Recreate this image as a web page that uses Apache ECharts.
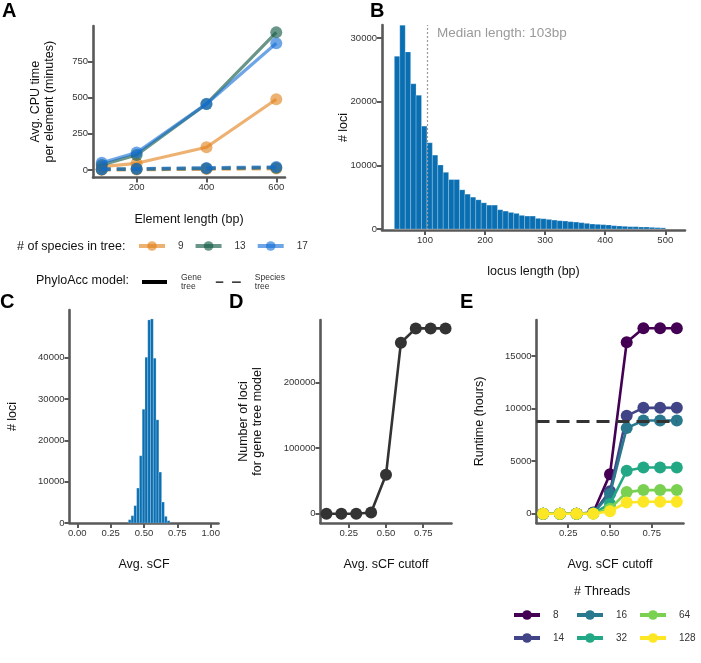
<!DOCTYPE html>
<html>
<head>
<meta charset="utf-8">
<script src="https://cdn.jsdelivr.net/npm/echarts@6/dist/echarts.min.js"></script>
<style>
  html, body { margin: 0; padding: 0; background: #fff; }
  #main { width: 701px; height: 663px; }
</style>
</head>
<body>
<div id="main"></div>
<script>
// ---- A: CPU time per element ----
var elemLength = [100, 200, 400, 600];
var speciesNames = ['9', '13', '17'];
var geneTreeTime = [
  [23, 46, 157, 488],
  [35, 104, 456, 950],
  [50, 120, 456, 875]
];
var speciesTreeTime = [
  [2, 3, 6, 10],
  [4, 6, 11, 16],
  [5, 8, 14, 20]
];
var modelNames = ['Gene tree', 'Species tree'];

// ---- B: locus length histogram ----
var locusBinStart = 49;
var locusBinWidth = 9.03;
var locusCounts = [27100, 32000, 27800, 22800, 21000, 16150, 13540, 11600, 10050, 8900,
  7760, 7760, 6150, 5470, 5000, 4580, 4110, 3750, 3750, 3020,
  2810, 2600, 2450, 2140, 2030, 2030, 1670, 1610, 1510, 1400,
  1300, 1250, 1150, 1090, 990, 885, 780, 730, 680, 625,
  520, 470, 420, 365, 365, 310, 310, 260, 210, 180];
var medianLength = 103;

// ---- C: sCF histogram ----
var scfBinStart = 0.3825;
var scfBinWidth = 0.0208;
var scfCounts = [800, 1770, 4200, 8450, 16260, 27500, 40080, 49100, 49340, 39840, 24950, 12310, 5070, 1610, 560];

// ---- D: loci for gene tree model ----
var cutoffs = [0.1, 0.2, 0.3, 0.4, 0.5, 0.6, 0.7, 0.8, 0.9];
var geneTreeLoci = [0, 0, 0, 2000, 59300, 260300, 282200, 282200, 282200];

// ---- E: runtime by threads ----
var threadNames = ['8', '14', '16', '32', '64', '128'];
var runtimeHours = [
  [0, 0, 0, 120, 3770, 16320, 17650, 17650, 17650],
  [0, 0, 0, 70, 2150, 9320, 10080, 10080, 10080],
  [0, 0, 0, 60, 1890, 8150, 8870, 8870, 8870],
  [0, 0, 0, 30, 940, 4090, 4400, 4400, 4400],
  [0, 0, 0, 15, 480, 2060, 2250, 2250, 2250],
  [0, 0, 0, 8, 240, 1070, 1140, 1140, 1140]
];
var yearHours = 8760;

var speciesColors = ['rgba(225,125,20,0.6)', 'rgba(20,90,70,0.64)', 'rgba(20,110,215,0.62)'];
var threadColors = ['#440154', '#414487', '#2A788E', '#22A884', '#7AD151', '#FDE725'];
var barBlue = '#0a6fb2';
var axisGrey = '#595959';
var font = 'Liberation Sans, Arial, sans-serif';

var chart = echarts.init(document.getElementById('main'));

function plain(v) { return String(v); }
function two(v) { return v.toFixed(2); }

function makeAxis(grid, min, max, ticks, fmt, name, gap, isY) {
  return {
    type: 'value', gridIndex: grid, min: min, max: max,
    name: name, nameLocation: 'middle', nameGap: gap,
    nameRotate: isY ? 90 : 0,
    nameMoveOverlap: false,
    nameTextStyle: { fontFamily: font, fontSize: 12.5, color: '#111', lineHeight: 14 },
    splitLine: { show: false },
    axisLine: { show: true, onZero: false, lineStyle: { color: axisGrey, width: 2.6 } },
    axisTick: { show: true, length: 5, customValues: ticks, lineStyle: { color: axisGrey, width: 2 } },
    axisLabel: { customValues: ticks, formatter: fmt, fontFamily: font, fontSize: 9.5, color: '#333', margin: 5 }
  };
}

function histItem(params, api) {
  var p0 = api.coord([api.value(0), api.value(2)]);
  var p1 = api.coord([api.value(1), 0]);
  return {
    type: 'rect',
    shape: { x: p0[0], y: p0[1], width: p1[0] - p0[0], height: p1[1] - p0[1] },
    style: { fill: barBlue, stroke: 'rgba(255,255,255,0.35)', lineWidth: 0.6 }
  };
}

var locusBins = locusCounts.map(function (c, i) {
  return [locusBinStart + i * locusBinWidth, locusBinStart + (i + 1) * locusBinWidth, c];
});
var scfBins = scfCounts.map(function (c, i) {
  return [scfBinStart + i * scfBinWidth, scfBinStart + (i + 1) * scfBinWidth, c];
});

var series = [];

// A: gene tree (solid) then species tree (dashed)
speciesNames.forEach(function (n, i) {
  series.push({
    type: 'line', name: n, xAxisIndex: 0, yAxisIndex: 0,
    data: elemLength.map(function (x, j) { return [x, geneTreeTime[i][j]]; }),
    symbol: 'circle', symbolSize: 12,
    lineStyle: { color: speciesColors[i], width: 3.2 },
    itemStyle: { color: speciesColors[i] },
    z: 2 + i
  });
});
speciesNames.forEach(function (n, i) {
  series.push({
    type: 'line', name: n, xAxisIndex: 0, yAxisIndex: 0,
    data: elemLength.map(function (x, j) { return [x, speciesTreeTime[i][j]]; }),
    symbol: 'circle', symbolSize: 12,
    lineStyle: { color: speciesColors[i], width: 3.6, type: [9, 6] },
    itemStyle: { color: speciesColors[i] },
    z: 5 + i
  });
});
modelNames.forEach(function (n, i) {
  series.push({
    type: 'line', name: n, xAxisIndex: 0, yAxisIndex: 0, data: [],
    symbol: 'none',
    lineStyle: { color: '#000', width: 3.5, type: i ? [6, 7] : 'solid' },
    itemStyle: { color: '#000' }
  });
});

// B
series.push({
  type: 'custom', xAxisIndex: 1, yAxisIndex: 1, renderItem: histItem,
  encode: { x: [0, 1], y: 2 }, data: locusBins, silent: true
});
series.push({
  type: 'line', xAxisIndex: 1, yAxisIndex: 1, data: [], silent: true, z: 5,
  markLine: {
    silent: true, symbol: 'none', label: { show: false },
    lineStyle: { color: '#9a9a9a', type: [2, 2], width: 1.2 },
    data: [{ xAxis: medianLength }]
  }
});

// C
series.push({
  type: 'custom', xAxisIndex: 2, yAxisIndex: 2, renderItem: histItem,
  encode: { x: [0, 1], y: 2 }, data: scfBins, silent: true
});

// D
series.push({
  type: 'line', xAxisIndex: 3, yAxisIndex: 3,
  data: cutoffs.map(function (x, j) { return [x, geneTreeLoci[j]]; }),
  symbol: 'circle', symbolSize: 12,
  lineStyle: { color: '#333', width: 2.6 }, itemStyle: { color: '#333' }
});

// E
series.push({
  type: 'line', xAxisIndex: 4, yAxisIndex: 4, data: [], silent: true, z: 1,
  markLine: {
    silent: true, symbol: 'none', label: { show: false },
    lineStyle: { color: '#333', type: [13, 7], width: 3 },
    data: [[{ coord: [0.06, yearHours] }, { coord: [cutoffs[cutoffs.length - 1], yearHours] }]]
  }
});
threadNames.forEach(function (n, i) {
  series.push({
    type: 'line', name: n, xAxisIndex: 4, yAxisIndex: 4,
    data: cutoffs.map(function (x, j) { return [x, runtimeHours[i][j]]; }),
    symbol: 'circle', symbolSize: 12,
    lineStyle: { color: threadColors[i], width: 2.6 },
    itemStyle: { color: threadColors[i] },
    z: 2 + i
  });
});

function letter(t, x, y) {
  return { text: t, left: x, top: y, padding: 0,
    textStyle: { fontFamily: font, fontSize: 20, fontWeight: 'bold', color: '#000' } };
}
function note(t, x, y, size, color) {
  return { text: t, left: x, top: y, padding: 0,
    textStyle: { fontFamily: font, fontSize: size, fontWeight: 'normal', color: color } };
}
function threadLegend(names, x) {
  return {
    data: names, left: x, top: 610, orient: 'vertical', selectedMode: false,
    itemWidth: 26, itemHeight: 12, itemGap: 13, padding: 0,
    lineStyle: { width: 4 },
    textStyle: { fontFamily: font, fontSize: 10, color: '#333', padding: [0, 0, 0, 8] }
  };
}

var option = {
  backgroundColor: '#fff',
  animation: false,
  title: [
    letter('A', 2, 1), letter('B', 370, 1), letter('C', 0, 292), letter('D', 229, 292), letter('E', 460, 292),
    note('Median length: 103bp', 437, 26, 13.5, '#9a9a9a'),
    note('# of species in tree:', 17, 240, 12.5, '#111'),
    note('PhyloAcc model:', 36, 274, 12.5, '#111'),
    note('# Threads', 574, 585, 12.5, '#111')
  ],
  legend: [
    {
      data: speciesNames, left: 137, top: 241, selectedMode: false,
      itemWidth: 26, itemHeight: 12, itemGap: 10, padding: 0,
      lineStyle: { width: 4 },
      textStyle: { fontFamily: font, fontSize: 10, color: '#333', padding: [0, 0, 0, 8] }
    },
    {
      data: [
        { name: modelNames[0], icon: 'rect' },
        { name: modelNames[1], icon: 'path://M0,0H6V1H0Z M13,0H20V1H13Z' }
      ],
      left: 142, top: 273, selectedMode: false,
      itemWidth: 25, itemHeight: 4, itemGap: 14, padding: 0,
      formatter: function (n) { return n.replace(' ', '\n'); },
      textStyle: { fontFamily: font, fontSize: 8.5, lineHeight: 9, color: '#333', padding: [0, 0, 0, 9] }
    },
    threadLegend(['8', '14'], 512),
    threadLegend(['16', '32'], 575),
    threadLegend(['64', '128'], 638)
  ],
  grid: [
    { left: 93, top: 26, width: 192, height: 151.5 },
    { left: 382, top: 25, width: 303, height: 205 },
    { left: 69.5, top: 310, width: 149, height: 213 },
    { left: 320.5, top: 320, width: 131, height: 203 },
    { left: 536.5, top: 320, width: 147, height: 203 }
  ],
  xAxis: [
    makeAxis(0, 75, 625, [200, 400, 600], plain, 'Element length (bp)', 35, false),
    makeAxis(1, 28.4, 532.8, [100, 200, 300, 400, 500], plain, 'locus length (bp)', 35, false),
    makeAxis(2, -0.0585, 1.0585, [0, 0.25, 0.5, 0.75, 1], two, 'Avg. sCF', 35, false),
    makeAxis(3, 0.06, 0.94, [0.25, 0.5, 0.75], two, 'Avg. sCF cutoff', 35, false),
    makeAxis(4, 0.06, 0.94, [0.25, 0.5, 0.75], two, 'Avg. sCF cutoff', 35, false)
  ],
  yAxis: [
    makeAxis(0, -52, 994, [0, 250, 500, 750], plain, 'Avg. CPU time\nper element (minutes)', 36, true),
    makeAxis(1, -157, 32025, [0, 10000, 20000, 30000], plain, '# loci', 31, true),
    makeAxis(2, 0, 51500, [0, 10000, 20000, 30000, 40000], plain, '# loci', 50, true),
    makeAxis(3, -14000, 295000, [0, 100000, 200000], plain, 'Number of loci\nfor gene tree model', 56, true),
    makeAxis(4, -880, 18440, [0, 5000, 10000, 15000], plain, 'Runtime (hours)', 50, true)
  ],
  series: series
};

chart.setOption(option);
</script>
</body>
</html>
